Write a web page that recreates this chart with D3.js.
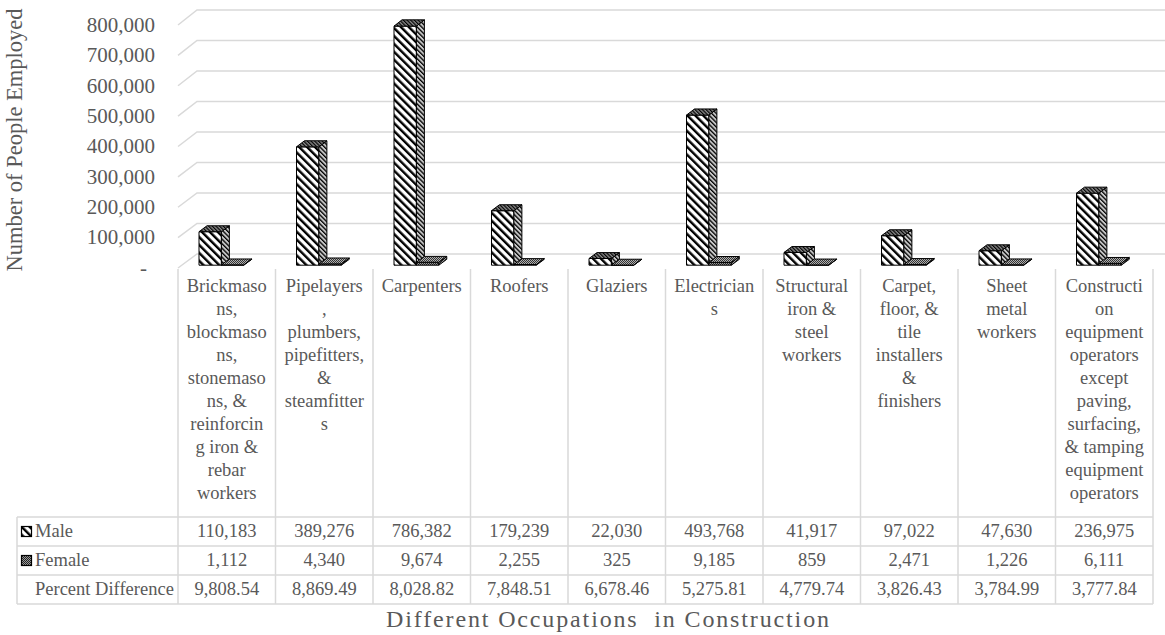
<!DOCTYPE html>
<html>
<head>
<meta charset="utf-8">
<script src="https://cdn.jsdelivr.net/npm/d3@7"></script>
<style>
  body { margin: 0; background: #fff; }
  svg { display: block; }
</style>
</head>
<body>
<svg id="chart" width="1165" height="635" font-family="Liberation Serif, DejaVu Serif, serif" fill="#595959"></svg>
<script>
// Employment in construction occupations by sex
const categories = [
  "Brickmasons, blockmasons, stonemasons, & reinforcing iron & rebar workers",
  "Pipelayers, plumbers, pipefitters, & steamfitters",
  "Carpenters",
  "Roofers",
  "Glaziers",
  "Electricians",
  "Structural iron & steel workers",
  "Carpet, floor, & tile installers & finishers",
  "Sheet metal workers",
  "Construction equipment operators except paving, surfacing, & tamping equipment operators"
];
// category labels as they wrap inside the table columns
const labelLines = [
  ["Brickmaso", "ns,", "blockmaso", "ns,", "stonemaso", "ns, &", "reinforcin", "g iron &", "rebar", "workers"],
  ["Pipelayers", ",", "plumbers,", "pipefitters,", "&", "steamfitter", "s"],
  ["Carpenters"],
  ["Roofers"],
  ["Glaziers"],
  ["Electrician", "s"],
  ["Structural", "iron &", "steel", "workers"],
  ["Carpet,", "floor, &", "tile", "installers", "&", "finishers"],
  ["Sheet", "metal", "workers"],
  ["Constructi", "on", "equipment", "operators", "except", "paving,", "surfacing,", "& tamping", "equipment", "operators"]
];
const maleValues = [110183, 389276, 786382, 179239, 22030, 493768, 41917, 97022, 47630, 236975];
const femaleValues = [1112, 4340, 9674, 2255, 325, 9185, 859, 2471, 1226, 6111];
const percentDifference = [9808.54, 8869.49, 8028.82, 7848.51, 6678.46, 5275.81, 4779.74, 3826.43, 3784.99, 3777.84];
const seriesNames = ["Male", "Female"];
const yTicks = [0, 100000, 200000, 300000, 400000, 500000, 600000, 700000, 800000];
const yTitle = "Number of People Employed";
const xTitle = "Different Occupations  in Construction";
const rowLabel = "Percent Difference";

const svg = d3.select("#chart");
const W = 1165;
const GRID = "#d9d9d9";
const FONT = "Liberation Serif, DejaVu Serif, serif";

// front plane of the floor and back wall of the 3-D plot box
const x = d3.scaleBand().domain(categories).range([178, 1153]).padding(0);
const yFront = d3.scaleLinear().domain([0, 800000]).range([268, 25]);
const yBack = d3.scaleLinear().domain([0, 800000]).range([254, 10]);
const DX = 19; // horizontal shift from front to back

function proj(xc, v, t) {
  return [xc + DX * t, yFront(v) * (1 - t) + yBack(v) * t];
}
function label(sel) {
  return sel.attr("font-family", FONT).attr("fill", "#595959");
}

// ---- patterns ----
const defs = svg.append("defs");
function stripes(id, period, thick, bg) {
  const p = defs.append("pattern").attr("id", id)
    .attr("patternUnits", "userSpaceOnUse")
    .attr("width", period).attr("height", period)
    .attr("patternTransform", "rotate(-45)");
  p.append("rect").attr("width", period).attr("height", period).attr("fill", bg);
  p.append("rect").attr("width", thick).attr("height", period).attr("fill", "#000");
}
stripes("maleFront", 5.6, 2.4, "#fff");
stripes("maleSide", 3.2, 1.3, "#c8c8c8");
stripes("maleTop", 2.6, 1.2, "#8a8a8a");
function checker(id, light, dark) {
  const p = defs.append("pattern").attr("id", id)
    .attr("patternUnits", "userSpaceOnUse").attr("width", 2).attr("height", 2);
  p.append("rect").attr("width", 2).attr("height", 2).attr("fill", light);
  p.append("rect").attr("width", 1).attr("height", 1).attr("fill", dark);
  p.append("rect").attr("x", 1).attr("y", 1).attr("width", 1).attr("height", 1).attr("fill", dark);
}
checker("female", "#9a9a9a", "#222");
checker("femaleTop", "#b0b0b0", "#333");

// ---- gridlines: side wall diagonal + back wall ----
const line = d3.line();
svg.append("g").selectAll("path").data(yTicks).join("path")
  .attr("d", v => line([proj(x.range()[0], v, 0), proj(x.range()[0], v, 1), [W, yBack(v)]]))
  .attr("fill", "none").attr("stroke", GRID).attr("stroke-width", 1.5);

// ---- y tick labels ----
const fmt = d3.format(",");
svg.append("g").selectAll("text").data(yTicks).join("text")
  .call(label)
  .attr("x", v => v === 0 ? 147 : 155)
  .attr("y", v => yFront(v) + 2)
  .attr("text-anchor", "end")
  .attr("dominant-baseline", "middle")
  .attr("font-size", 21)
  .text(v => v === 0 ? "-" : fmt(v));

// ---- 3-D columns ----
const T0 = 0.2, T1 = 0.62;
const BAR_OFF = 17.2, BAR_W = 22.4;
const series = [
  { name: seriesNames[0], values: maleValues, front: "url(#maleFront)", side: "url(#maleSide)", top: "url(#maleTop)" },
  { name: seriesNames[1], values: femaleValues, front: "url(#female)", side: "url(#female)", top: "url(#femaleTop)" }
];
const bars = svg.append("g");
categories.forEach((c, i) => {
  series.forEach((s, j) => {
    const v = s.values[i];
    const x0 = x(c) + BAR_OFF + j * BAR_W;
    const x1 = x0 + BAR_W;
    const faces = [
      { pts: [proj(x0, 0, T0), proj(x1, 0, T0), proj(x1, v, T0), proj(x0, v, T0)], fill: s.front },
      { pts: [proj(x1, 0, T0), proj(x1, 0, T1), proj(x1, v, T1), proj(x1, v, T0)], fill: s.side },
      { pts: [proj(x0, v, T0), proj(x1, v, T0), proj(x1, v, T1), proj(x0, v, T1)], fill: s.top }
    ];
    bars.append("g").selectAll("path").data(faces).join("path")
      .attr("d", f => line(f.pts) + "Z")
      .attr("fill", f => f.fill)
      .attr("stroke", "#000").attr("stroke-width", 1)
      .attr("stroke-linejoin", "round");
  });
});

// ---- data table ----
const rowTop = [517, 546, 575];
const ROW_H = 29;
const tableLeft = 17;
const table = svg.append("g");
const right = x.range()[1];
[517, 546, 575, 604].forEach(yy => {
  table.append("line").attr("x1", tableLeft).attr("x2", right).attr("y1", yy).attr("y2", yy)
    .attr("stroke", GRID).attr("stroke-width", 1.5);
});
table.append("line").attr("x1", tableLeft).attr("x2", tableLeft).attr("y1", 517).attr("y2", 604)
  .attr("stroke", GRID).attr("stroke-width", 1.5);
const edges = categories.map(c => x(c)).concat([right]);
table.selectAll("line.v").data(edges).join("line").attr("class", "v")
  .attr("x1", d => d).attr("x2", d => d).attr("y1", 269).attr("y2", 604)
  .attr("stroke", GRID).attr("stroke-width", 1.5);

// category labels
categories.forEach((c, i) => {
  const cx = x(c) + x.bandwidth() / 2;
  const t = table.append("text").call(label)
    .attr("text-anchor", "middle").attr("font-size", 18.5);
  labelLines[i].forEach((ln, k) => {
    t.append("tspan").attr("x", cx)
      .attr("y", 288 + k * 23).attr("dominant-baseline", "middle").text(ln);
  });
});

// row headers with legend keys
const rows = [
  { label: seriesNames[0], vals: maleValues.map(fmt), key: "url(#maleFront)" },
  { label: seriesNames[1], vals: femaleValues.map(fmt), key: "url(#female)" },
  { label: rowLabel, vals: percentDifference.map(d3.format(",.2f")), key: null }
];
rows.forEach((r, k) => {
  const cy = rowTop[k] + ROW_H / 2;
  if (r.key) {
    table.append("rect").attr("x", 21.5).attr("y", cy - 5).attr("width", 10).attr("height", 10)
      .attr("fill", r.key).attr("stroke", "#000").attr("stroke-width", 1.2);
  }
  table.append("text").call(label).attr("x", 35).attr("y", cy + 1)
    .attr("dominant-baseline", "middle").attr("font-size", 18.5).text(r.label);
  table.append("g").selectAll("text").data(r.vals).join("text").call(label)
    .attr("x", (d, i) => x(categories[i]) + x.bandwidth() / 2)
    .attr("y", cy + 1)
    .attr("text-anchor", "middle").attr("dominant-baseline", "middle")
    .attr("font-size", 18.5).text(d => d);
});

// ---- axis titles ----
svg.append("text").call(label)
  .attr("transform", "translate(17,140) rotate(-90)")
  .attr("text-anchor", "middle").attr("dominant-baseline", "middle")
  .attr("font-size", 22.5).text(yTitle);
svg.append("text").call(label)
  .attr("x", 386).attr("y", 621)
  .attr("dominant-baseline", "middle")
  .attr("font-size", 24).style("white-space", "pre")
  .attr("textLength", 443).attr("lengthAdjust", "spacing")
  .text(xTitle);
</script>
</body>
</html>
